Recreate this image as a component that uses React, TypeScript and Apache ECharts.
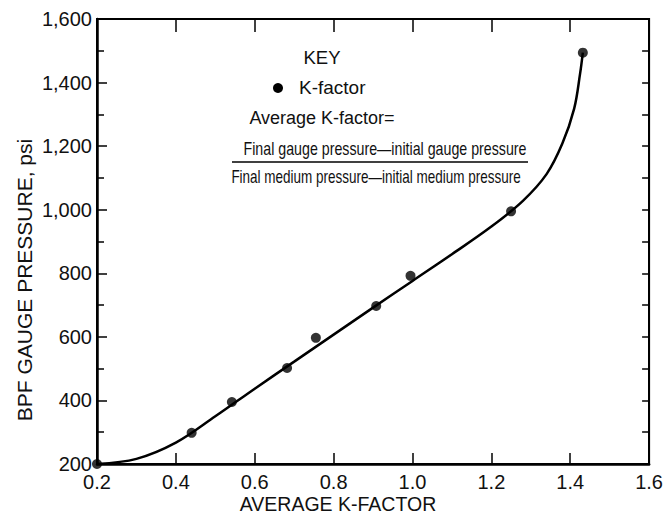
import React, { useEffect, useRef } from "react";
import * as echarts from "echarts";

// Measured K-factor points (x = average K-factor, y = BPF gauge pressure, psi)
const kFactor = [0.2, 0.44, 0.542, 0.682, 0.755, 0.908, 0.995, 1.25, 1.432];
const gaugePressure = [200, 298, 395, 502, 597, 697, 792, 995, 1494];

// Hand-drawn fitted curve
const curveX = [0.2, 0.3, 0.4, 0.5, 0.6, 0.7, 0.8, 0.9, 1.0, 1.1, 1.2, 1.28, 1.34, 1.38, 1.41, 1.425, 1.432];
const curveY = [200, 216, 267, 350, 437, 522, 607, 692, 776, 860, 947, 1028, 1112, 1208, 1318, 1428, 1494];

const xMin = 0.2;
const xMax = 1.6;
const yMin = 200;
const yMax = 1600;

const xTitle = "AVERAGE K-FACTOR";
const yTitle = "BPF GAUGE PRESSURE, psi";
const keyTitle = "KEY";
const keyItem = "K-factor";
const formulaHead = "Average K-factor=";
const formulaNum = "Final gauge pressure\u2014initial gauge pressure";
const formulaDen = "Final medium pressure\u2014initial medium pressure";

const FONT = "Liberation Sans, Arial, sans-serif";
const INK = "#111";
const LINE = "#000000";

export default function App() {
  const ref = useRef<HTMLDivElement>(null);
  useEffect(() => {
    if (!ref.current) return;
    const chart = echarts.init(ref.current, null, { renderer: "svg" });
    chart.setOption({
      animation: false,
      grid: { left: 97, top: 19, right: 13, bottom: 54, show: true, borderColor: LINE, borderWidth: 2 },
      xAxis: [
        {
          type: "value",
          min: xMin,
          max: xMax,
          interval: 0.2,
          position: "bottom",
          splitLine: { show: false },
          axisLine: { show: true, lineStyle: { color: LINE, width: 2.5 } },
          axisTick: { show: true, inside: true, length: 11, lineStyle: { color: LINE, width: 1.5 } },
          axisLabel: {
            show: true,
            margin: 8,
            fontSize: 20,
            fontFamily: FONT,
            color: INK,
            formatter: (v: number) => v.toFixed(1),
          },
        },
        {
          type: "value",
          min: xMin,
          max: xMax,
          interval: 0.2,
          position: "top",
          splitLine: { show: false },
          axisLine: { show: true, lineStyle: { color: LINE, width: 2 } },
          axisTick: { show: true, inside: true, length: 13, lineStyle: { color: LINE, width: 1.5 } },
          axisLabel: { show: false },
        },
      ],
      yAxis: [
        {
          type: "value",
          min: yMin,
          max: yMax,
          interval: 200,
          position: "left",
          splitLine: { show: false },
          axisLine: { show: true, lineStyle: { color: LINE, width: 2.5 } },
          axisTick: { show: true, inside: true, length: 10, lineStyle: { color: LINE, width: 1.5 } },
          minorTick: { show: true, splitNumber: 2, length: 7, lineStyle: { color: LINE, width: 1.5 } },
          axisLabel: {
            show: true,
            margin: 5,
            fontSize: 20,
            fontFamily: FONT,
            color: INK,
            formatter: (v: number) => v.toLocaleString("en-US"),
          },
        },
        {
          type: "value",
          min: yMin,
          max: yMax,
          interval: 200,
          position: "right",
          splitLine: { show: false },
          axisLine: { show: true, lineStyle: { color: LINE, width: 2 } },
          axisTick: { show: true, inside: true, length: 7, lineStyle: { color: LINE, width: 1.5 } },
          minorTick: { show: true, splitNumber: 2, length: 7, lineStyle: { color: LINE, width: 1.5 } },
          axisLabel: { show: false },
        },
      ],
      series: [
        {
          type: "line",
          xAxisIndex: 0,
          yAxisIndex: 0,
          data: curveX.map((x, i) => [x, curveY[i]]),
          smooth: 0.35,
          showSymbol: false,
          lineStyle: { color: "#000", width: 2.5 },
        },
        {
          name: keyItem,
          type: "scatter",
          xAxisIndex: 0,
          yAxisIndex: 0,
          data: kFactor.map((x, i) => [x, gaugePressure[i]]),
          symbolSize: 10,
          itemStyle: { color: "#000" },
        },
        {
          type: "scatter",
          xAxisIndex: 1,
          yAxisIndex: 1,
          data: [],
        },
      ],
      graphic: [
        {
          type: "text",
          x: 24,
          y: 280,
          rotation: Math.PI / 2,
          style: { text: yTitle, fontSize: 21, fontFamily: FONT, fill: INK, textAlign: "center", textVerticalAlign: "middle" },
        },
        {
          type: "text",
          x: 338,
          y: 504,
          style: { text: xTitle, fontSize: 19.5, fontFamily: FONT, fill: INK, textAlign: "center", textVerticalAlign: "middle" },
        },
        {
          type: "text",
          x: 322,
          y: 57,
          style: { text: keyTitle, fontSize: 18.5, fontFamily: FONT, fill: INK, textAlign: "center", textVerticalAlign: "middle" },
        },
        { type: "circle", shape: { cx: 278, cy: 88, r: 5 }, style: { fill: "#000" } },
        {
          type: "text",
          x: 299,
          y: 87,
          style: { text: keyItem, fontSize: 19, fontFamily: FONT, fill: INK, textAlign: "left", textVerticalAlign: "middle" },
        },
        {
          type: "text",
          x: 322,
          y: 118,
          style: { text: formulaHead, fontSize: 18, fontFamily: FONT, fill: INK, textAlign: "center", textVerticalAlign: "middle" },
        },
        {
          type: "text",
          x: 385,
          y: 148,
          scaleX: 0.79,
          style: { text: formulaNum, fontSize: 18, fontFamily: FONT, fill: INK, textAlign: "center", textVerticalAlign: "middle" },
        },
        { type: "line", shape: { x1: 232, y1: 162, x2: 528, y2: 162 }, style: { stroke: "#000", lineWidth: 1.5 } },
        {
          type: "text",
          x: 376,
          y: 177,
          scaleX: 0.75,
          style: { text: formulaDen, fontSize: 18, fontFamily: FONT, fill: INK, textAlign: "center", textVerticalAlign: "middle" },
        },
      ],
    });
    return () => chart.dispose();
  }, []);
  return <div ref={ref} style={{ position: "absolute", left: 0, top: 0, width: 666, height: 518, background: "#fff" }} />;
}
